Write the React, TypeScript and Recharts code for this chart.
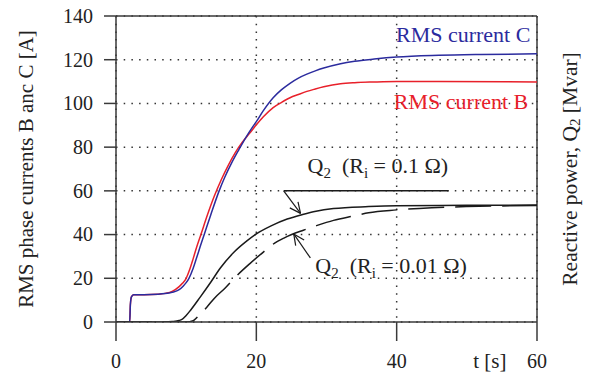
import React from 'react';
import { LineChart, Line, XAxis, YAxis, CartesianGrid, ReferenceLine, ReferenceDot } from 'recharts';

// time axis [s] and RMS phase current C [A]
const tC = [0, 1.95, 2.05, 2.2, 2.5, 4, 6, 7, 8, 9, 9.6, 10, 10.4, 11, 11.5, 12, 12.6, 13.5, 14.7, 15.5, 16.5, 17.5, 18.5, 19.5, 20, 21, 22.4, 23.6, 24.8, 26, 27.2, 28.4, 29.6, 32, 34, 36.8, 40, 46, 52, 60];
const currentC = [0, 0, 8, 11.5, 12.5, 12.5, 12.7, 13, 13.6, 14.8, 16.5, 18, 20, 24.6, 29.5, 34.5, 40.3, 49, 60, 66.2, 72.9, 78.8, 84.4, 89.4, 91.7, 96.7, 102.6, 106.3, 109.2, 111.6, 113.4, 114.9, 116.2, 118.2, 119.3, 120.3, 121.2, 122, 122.4, 122.7];

// RMS phase current B [A]
const tB = [0, 1.95, 2.05, 2.2, 2.5, 4, 6, 7, 8, 9, 9.5, 10, 10.5, 11, 11.5, 12.1, 13, 14, 15, 16, 17, 18, 19, 20, 21, 22.4, 23.6, 24.8, 26, 27.2, 28.4, 29.6, 32, 34, 36.8, 40, 46, 60];
const currentB = [0, 0, 8, 11.5, 12.5, 12.5, 12.7, 13.1, 14, 16.2, 17.8, 20, 24, 29, 34.3, 40, 48.7, 57.5, 65.1, 71.7, 77.5, 82.3, 86.2, 90.2, 93.9, 98.1, 100.5, 102.6, 104.1, 105.5, 106.6, 107.6, 109, 109.5, 109.8, 110, 110, 109.8];

// Reactive power Q2, Ri = 0.1 ohm [Mvar]
const tQa = [0, 7, 8, 9, 9.4, 10, 10.6, 12, 13.5, 14.9, 16.8, 18.7, 20, 22.1, 24.4, 26.6, 28.5, 31, 36, 40, 50, 60];
const q2a = [0, 0, 0.2, 0.7, 1.2, 3, 5.3, 11.4, 18.2, 24.8, 31.9, 37.2, 40.3, 44, 47.1, 49.2, 50.7, 51.9, 52.8, 53.2, 53.4, 53.5];

// Reactive power Q2, Ri = 0.01 ohm [Mvar]
const tQb = [0, 10, 11, 11.6, 13, 14, 15.6, 17, 19, 21, 22.3, 24, 26.7, 28.5, 31, 34, 36, 40, 45, 50, 60];
const q2b = [0, 0, 0.6, 2.3, 7, 10.8, 15.7, 20.5, 26.5, 32, 35.4, 38.5, 42, 44, 46.5, 48.6, 50, 51.3, 52.3, 52.8, 53.3];

const xTicks = [0, 20, 40, 60];
const yTicks = [0, 20, 40, 60, 80, 100, 120, 140];

// annotation geometry in data units
const leaderLine = [{ x: 23.9, y: 60 }, { x: 47.4, y: 60 }];
const arrowA = { tail: { x: 23.9, y: 60 }, head: { x: 26.3, y: 49.7 }, w1: { x: 25.94, y: 55.0 }, w2: { x: 24.77, y: 52.2 } };
const arrowB = { tail: { x: 27.7, y: 29.3 }, head: { x: 25.33, y: 40.3 }, w1: { x: 25.61, y: 34.9 }, w2: { x: 26.81, y: 37.5 } };
const labelC = { x: 39.9, y: 128.3 };
const labelB = { x: 39.6, y: 97.4 };
const labelQa = { x: 27.3, y: 68.2 };
const labelQb = { x: 28.4, y: 22.6 };

const toRows = (ts: number[], vs: number[]) => ts.map((t, i) => ({ t, v: vs[i] }));
const dataC = toRows(tC, currentC);
const dataB = toRows(tB, currentB);
const dataQa = toRows(tQa, q2a);
const dataQb = toRows(tQb, q2b);

const FONT = "'Liberation Serif', 'Times New Roman', serif";
const BLUE = '#2b2b9e';
const RED = '#e8202a';
const INK = '#1a1a1a';
const AX = '#3a3a3a';
const TXT = '#222';

const textShape = (content: React.ReactNode, color: string) => (p: any) => (
  <text x={p.cx} y={p.cy} fontSize={22} fill={color} style={{ whiteSpace: 'pre', fontFamily: FONT }}>
    {content}
  </text>
);

const qLabel = (val: string) => (
  <>
    Q<tspan fontSize={15} dy={5}>2</tspan>
    <tspan dy={-5}>{'  (R'}</tspan>
    <tspan fontSize={15} dy={5}>i</tspan>
    <tspan dy={-5}>{` = ${val} Ω)`}</tspan>
  </>
);

const arrowSegs = (a: any) => [
  [a.tail, a.head],
  [a.w1, a.head],
  [a.w2, a.head],
];

const XTick = (p: any) => (
  <text x={p.x} y={p.y} dy="0.71em" textAnchor="middle" fontSize={20} fill={TXT} style={{ fontFamily: FONT }}>
    {p.payload.value}
  </text>
);

const YTick = (p: any) => (
  <text x={p.x} y={p.y} dy="0.34em" textAnchor="end" fontSize={20} fill={TXT} style={{ fontFamily: FONT }}>
    {p.payload.value}
  </text>
);

export default function App() {
  return (
    <div style={{ position: 'absolute', left: 0, top: 0, width: 597, height: 374, background: '#fff', fontFamily: FONT }}>
      <LineChart width={597} height={374} margin={{ top: 16, right: 0, bottom: 0, left: 0 }} style={{ fontFamily: FONT }}>
        <CartesianGrid yAxisId="l" stroke="#333" strokeWidth={1.5} strokeDasharray="1.5 6.2" />
        <XAxis
          dataKey="t"
          type="number"
          domain={[0, 60]}
          ticks={xTicks}
          allowDataOverflow
          height={52}
          tickSize={19}
          tickMargin={13}
          stroke={AX}
          strokeWidth={1.5}
          tick={XTick}
          label={{
            content: (p: any) => {
              const vb = p.viewBox;
              return (
                <text x={vb.x + vb.width * 0.888} y={368} textAnchor="middle" fontSize={21} fill={TXT} style={{ fontFamily: FONT }}>
                  t [s]
                </text>
              );
            },
          }}
        />
        <YAxis
          yAxisId="l"
          domain={[0, 140]}
          ticks={yTicks}
          allowDataOverflow
          width={116}
          tickSize={12}
          tickMargin={11}
          stroke={AX}
          strokeWidth={1.5}
          tick={YTick}
          label={{
            content: (p: any) => {
              const vb = p.viewBox;
              const cx = vb.x + 26;
              const cy = vb.y + vb.height / 2;
              return (
                <text x={cx} y={cy} transform={`rotate(-90 ${cx} ${cy})`} textAnchor="middle" dominantBaseline="central" fontSize={21} fill={TXT} style={{ fontFamily: FONT }}>
                  RMS phase currents B anc C [A]
                </text>
              );
            },
          }}
        />
        <YAxis
          yAxisId="r"
          orientation="right"
          domain={[0, 140]}
          ticks={yTicks}
          width={60}
          tick={false}
          tickLine={false}
          axisLine={false}
          label={{
            content: (p: any) => {
              const vb = p.viewBox;
              const cx = vb.x + 33;
              const cy = vb.y + vb.height / 2;
              return (
                <text x={cx} y={cy} transform={`rotate(-90 ${cx} ${cy})`} textAnchor="middle" dominantBaseline="central" fontSize={21.5} fill={TXT} style={{ fontFamily: FONT }}>
                  Reactive power, Q<tspan fontSize={15} dy={5}>2</tspan>
                  <tspan dy={-5}> [Mvar]</tspan>
                </text>
              );
            },
          }}
        />
        <ReferenceLine yAxisId="l" y={140} stroke={AX} strokeWidth={1.5} />
        <ReferenceLine yAxisId="l" x={60} stroke={AX} strokeWidth={1.5} />

        <Line yAxisId="l" data={dataB} dataKey="v" type="monotone" stroke={RED} strokeWidth={1.5} dot={false} isAnimationActive={false} />
        <Line yAxisId="l" data={dataC} dataKey="v" type="monotone" stroke={BLUE} strokeWidth={1.5} dot={false} isAnimationActive={false} />
        <Line yAxisId="l" data={dataQb} dataKey="v" type="monotone" stroke={INK} strokeWidth={1.5} strokeDasharray="36 11" dot={false} isAnimationActive={false} />
        <Line yAxisId="l" data={dataQa} dataKey="v" type="monotone" stroke={INK} strokeWidth={1.5} dot={false} isAnimationActive={false} />

        <ReferenceLine yAxisId="l" segment={leaderLine} stroke={INK} strokeWidth={1.5} />
        {arrowSegs(arrowA).map((s, i) => (
          <ReferenceLine key={'a' + i} yAxisId="l" segment={s} stroke={INK} strokeWidth={1.2} />
        ))}
        {arrowSegs(arrowB).map((s, i) => (
          <ReferenceLine key={'b' + i} yAxisId="l" segment={s} stroke={INK} strokeWidth={1.2} />
        ))}

        <ReferenceDot yAxisId="l" x={labelC.x} y={labelC.y} r={0} shape={textShape('RMS current C', BLUE)} />
        <ReferenceDot yAxisId="l" x={labelB.x} y={labelB.y} r={0} shape={textShape('RMS current B', RED)} />
        <ReferenceDot yAxisId="l" x={labelQa.x} y={labelQa.y} r={0} shape={textShape(qLabel('0.1'), TXT)} />
        <ReferenceDot yAxisId="l" x={labelQb.x} y={labelQb.y} r={0} shape={textShape(qLabel('0.01'), TXT)} />
      </LineChart>
    </div>
  );
}
